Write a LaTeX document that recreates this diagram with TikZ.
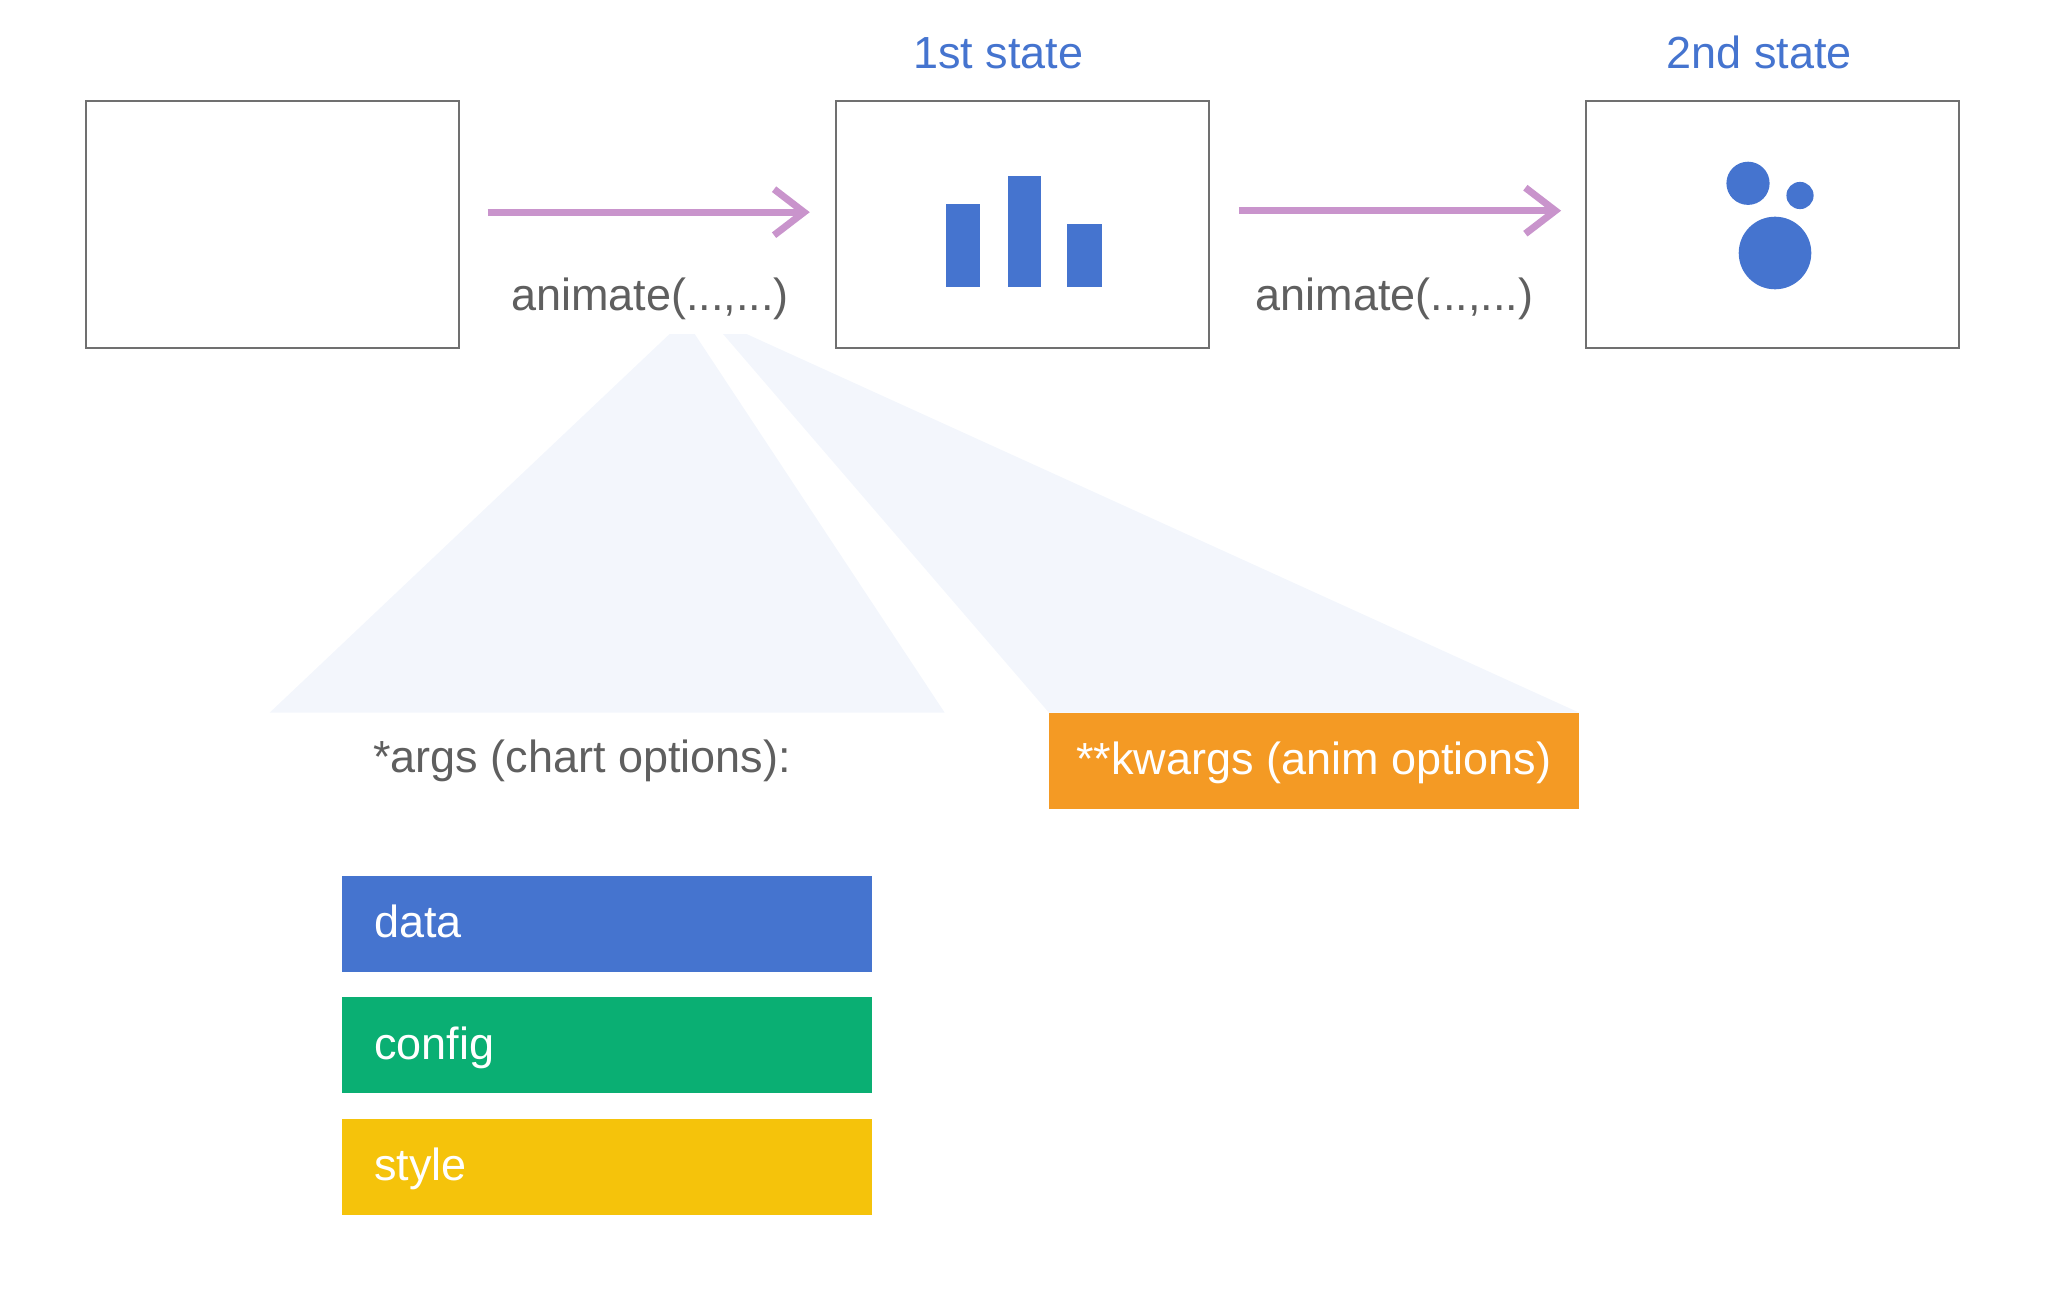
\documentclass[tikz,border=0pt]{standalone}
\usepackage{fontspec}
\setmainfont{Liberation Sans}
\usetikzlibrary{arrows.meta}

\begin{document}
\begin{tikzpicture}
		[x=1pt,y=-1pt,
		%Styles
		state box/.style={draw=framegray,line width=2pt,minimum width=373pt,minimum height=247pt,inner sep=0pt},
		flow/.style={line width=7pt,draw=flowpink,-{Straight Barb[length=30pt,width=46pt,line cap=butt]}},
		big text/.style={font=\fontsize{45pt}{54pt}\selectfont,inner sep=0pt},
		call text/.style={big text,text=textgray,anchor=base west},
		state text/.style={big text,text=chartblue,anchor=base west},
		option/.style={big text,text=white,minimum height=96pt,text height=34pt,text depth=6pt,inner ysep=0pt},
		arg option/.style={option,fill=#1,anchor=north west,text width=466pt,inner xsep=32pt,align=left}
		]
		
		%Colors
		\definecolor{framegray}{HTML}{707070}
		\definecolor{textgray}{HTML}{5F5F5F}
		\definecolor{flowpink}{HTML}{C994CC}
		\definecolor{chartblue}{HTML}{4574CF}
		\definecolor{fanblue}{HTML}{F3F6FC}
		\definecolor{optgreen}{HTML}{0AAF73}
		\definecolor{optyellow}{HTML}{F5C30B}
		\definecolor{optorange}{HTML}{F49A24}
		
		\useasboundingbox (0,0) rectangle (2047,1292);
		
		%The graphic
		\node[state box] (empty) at (272,224.7) {};
		\node[state box] (first) at (1022.3,224.7) {};
		\node[state box] (second) at (1772.6,224.7) {};
		
		\node[state text] (firstlabel) at (913,69) {1st state};
		\node[state text] (secondlabel) at (1666.6,69) {2nd state};
		
		\draw[flow] ([xshift=28pt,yshift=12.5pt]empty.east) -- ([xshift=-25pt,yshift=12.5pt]first.west);
		\draw[flow] ([xshift=29pt,yshift=14pt]first.east) -- ([xshift=-24pt,yshift=14pt]second.west);
		
		\node[call text] (callA) at (511,310) {animate(...,...)};
		\node[call text] (callB) at (1255.6,310) {animate(...,...)};
		
		%bar chart
		\fill[chartblue] (946,204) rectangle (980,287);
		\fill[chartblue] (1008,176) rectangle (1041,287);
		\fill[chartblue] (1067,224) rectangle (1102,287);
		
		%bubbles
		\fill[chartblue] (1748,183.3) circle (21.6);
		\fill[chartblue] (1800,195.5) circle (13.6);
		\fill[chartblue] (1775,253) circle (36.3);
		
		%options
		\node[option,fill=optorange,minimum width=529.6pt,inner xsep=0pt] (kwargs) at (1313.8,760.7) {**kwargs (anim options)};
		\node[call text] (args) at (373,772) {*args (chart options):};
		\node[arg option=chartblue] (data) at (342,875.3) {data};
		\node[arg option=optgreen] (config) at (342,997) {config};
		\node[arg option=optyellow] (style) at (342,1118.7) {style};
		
		%fans
		\fill[fanblue] (669.6,334) -- (694.7,334) -- (944.7,712.7) -- (269.6,712.7) -- cycle;
		\fill[fanblue] (723,334) -- (746.5,334) -- (kwargs.north east) -- (kwargs.north west) -- cycle;
	\end{tikzpicture}
\end{document}
